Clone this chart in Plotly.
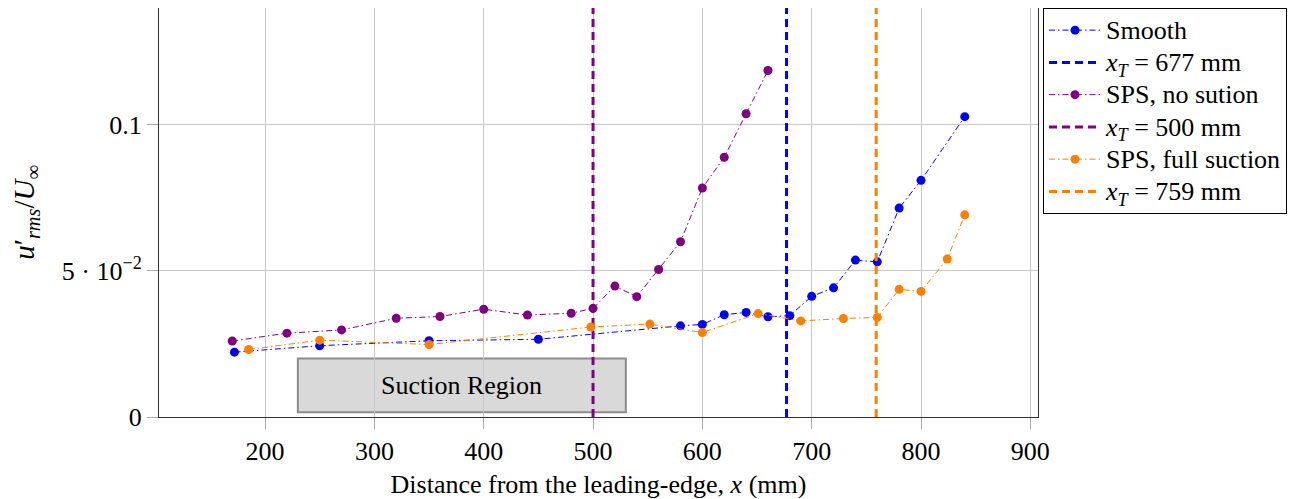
import plotly.graph_objects as go

# ---- data ----
smooth_x = [172, 250, 350, 450, 580, 600, 620, 640, 660, 680, 700, 720, 740, 760, 780, 800, 840]
smooth_y = [0.0222, 0.0244, 0.0261, 0.0266, 0.0312, 0.0317, 0.0350, 0.0358, 0.0343, 0.0347,
            0.0413, 0.0442, 0.0537, 0.0531, 0.0715, 0.0810, 0.1028]

nosuc_x = [170, 220, 270, 320, 360, 400, 440, 480, 500, 520, 540, 560, 580, 600, 620, 640, 660]
nosuc_y = [0.0260, 0.0287, 0.0298, 0.0338, 0.0344, 0.0369, 0.0349, 0.0355, 0.0372, 0.0448,
           0.0412, 0.0505, 0.0600, 0.0784, 0.0889, 0.1038, 0.1186]

fullsuc_x = [185, 250, 350, 498, 552, 600, 651, 690, 729, 760, 780, 800, 824, 840]
fullsuc_y = [0.0231, 0.0263, 0.0248, 0.0308, 0.0318, 0.0289, 0.0354, 0.0329, 0.0337, 0.0341,
             0.0437, 0.0430, 0.0541, 0.0692]

transition_x = [677, 500, 759]
series_names = ["Smooth", "SPS, no sution", "SPS, full suction"]
colors = ["#0000ff", "#800080", "#ff7f00"]

x_ticks = [200, 300, 400, 500, 600, 700, 800, 900]
y_ticks = [0, 0.05, 0.1]
y_ticktext = ["0", "5 · 10<sup>−2</sup>", "0.1"]

x_range = [103, 907]
y_range = [0, 0.14]

suction_region = [230, 530]
suction_y = [0.0016, 0.0200]

FONT = "Liberation Serif"
FS = 26


def leg(txt):
    return f'<span style="font-size:26px">{txt}</span>'


fig = go.Figure()

series = [(smooth_x, smooth_y), (nosuc_x, nosuc_y), (fullsuc_x, fullsuc_y)]
for (xs, ys), name, col, xt in zip(series, series_names, colors, transition_x):
    fig.add_trace(go.Scatter(
        x=xs, y=ys, mode="lines+markers", name=leg(name),
        line=dict(color=col, width=1, dash="6px,3px,1.5px,3px"),
        marker=dict(color=col, size=9),
    ))
    fig.add_trace(go.Scatter(
        x=[xt, xt], y=y_range, mode="lines",
        name=leg(f"<i>x</i><sub><i>T</i></sub> = {xt} mm"),
        line=dict(color=col, width=3, dash="8px,5px"),
    ))

fig.add_shape(type="rect", xref="x", yref="y",
              x0=suction_region[0], x1=suction_region[1],
              y0=suction_y[0], y1=suction_y[1],
              fillcolor="#d9d9d9", line=dict(color="#8c8c8c", width=2),
              layer="below")
fig.add_annotation(x=(suction_region[0] + suction_region[1]) / 2,
                   y=(suction_y[0] + suction_y[1]) / 2,
                   text="Suction Region", showarrow=False,
                   font=dict(family=FONT, size=FS, color="black"))

# page body has an 8px margin, so the figure is shrunk by 8px on the top/left
fig.update_layout(
    width=1289, height=491,
    margin=dict(l=151, r=259, t=0, b=82),
    paper_bgcolor="white", plot_bgcolor="white",
    font=dict(family=FONT, size=FS, color="black"),
    showlegend=True,
    legend=dict(x=1.0057, y=1.0, xanchor="left", yanchor="top",
                bordercolor="black", borderwidth=1, bgcolor="white",
                font=dict(family=FONT, size=22.5, color="black"), tracegroupgap=0,
                itemwidth=52),
    xaxis=dict(range=x_range, tickvals=x_ticks, showgrid=True,
               gridcolor="#c8c8c8", gridwidth=1,
               ticks="outside", ticklen=11, tickcolor="#aaaaaa",
               showline=True, linecolor="#333333", linewidth=1, mirror=True,
               zeroline=False,
               title=dict(text="Distance from the leading-edge, <i>x</i> (mm)",
                          font=dict(family=FONT, size=FS), standoff=11),
               tickfont=dict(family=FONT, size=FS)),
    yaxis=dict(range=y_range, tickvals=y_ticks, ticktext=y_ticktext,
               showgrid=True, gridcolor="#c8c8c8", gridwidth=1,
               ticks="outside", ticklen=11, tickcolor="#aaaaaa",
               showline=True, linecolor="#333333", linewidth=1, mirror=True,
               zeroline=False,
               title=dict(text="<i>u</i>′<sub><i>rms</i></sub>/<i>U</i><sub>∞</sub>",
                          font=dict(family=FONT, size=29), standoff=18),
               tickfont=dict(family=FONT, size=FS)),
)

fig.write_html("out.html")
